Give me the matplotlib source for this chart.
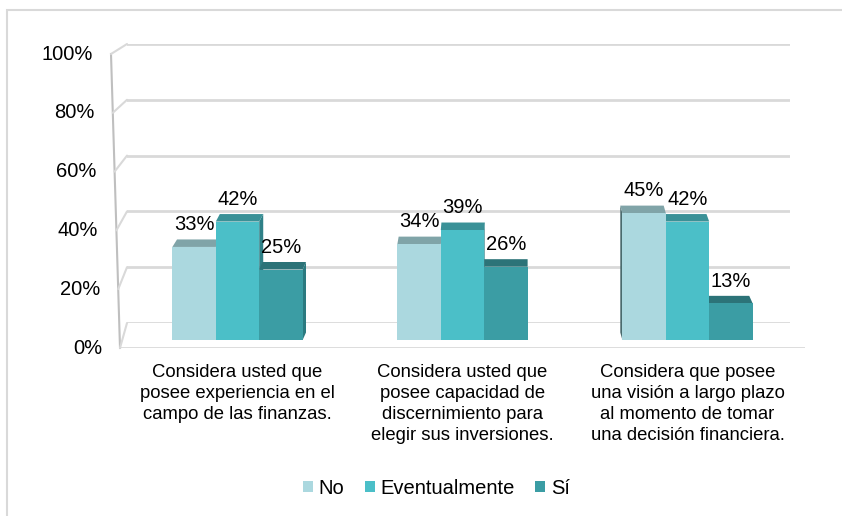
import numpy as np
import matplotlib.pyplot as plt
from matplotlib.patches import Polygon, ConnectionPatch, Rectangle

plt.rcParams['font.family'] = ['Liberation Sans', 'DejaVu Sans']

categories = ["Considera usted que\nposee experiencia en el\ncampo de las finanzas.",
              "Considera usted que\nposee capacidad de\ndiscernimiento para\nelegir sus inversiones.",
              "Considera que posee\nuna visión a largo plazo\nal momento de tomar\nuna decisión financiera."]
series = ["No", "Eventualmente", "Sí"]
no_vals = [0.33, 0.34, 0.45]
ev_vals = [0.42, 0.39, 0.42]
si_vals = [0.25, 0.26, 0.13]
yticks = [0, 0.2, 0.4, 0.6, 0.8, 1.0]
ytick_labels = ["0%", "20%", "40%", "60%", "80%", "100%"]

front_cols = ["#abd8df", "#4bbfc8", "#3b9da4"]
top_cols = ["#80a4a8", "#3a9197", "#2c7378"]
side_cols = ["#4a6b6e", "#2f8087", "#2b7a80"]
grid_col = "#d9d9d9"

W, H = 842, 516
fig = plt.figure(figsize=(W / 100, H / 100), dpi=100)


def px_axes(left, top, right, bottom):
    a = fig.add_axes([left / W, 1 - bottom / H, (right - left) / W, (bottom - top) / H])
    a.patch.set_alpha(0)
    for s in a.spines.values():
        s.set_visible(False)
    return a


# outer chart border
fig.add_artist(Rectangle((7 / W, -0.1), 1.2, 1.1 - 10 / H, transform=fig.transFigure,
                         fill=False, edgecolor=grid_col, lw=1.5))

# back wall (gridlines)
ax_back = px_axes(127, 44, 790, 323)
ax_back.set_xlim(0, 1)
ax_back.set_ylim(0, 1)
ax_back.set_xticks([])
ax_back.set_yticks([])
for t in yticks:
    ax_back.axhline(t, color=grid_col, lw=2)

# front plane (tick labels, floor edge, left wall)
ax_front = px_axes(120, 54, 805, 348)
ax_front.set_xlim(0, 1)
ax_front.set_ylim(0, 1)
ax_front.set_xticks([])
ax_front.set_yticks([])
ax_front.axhline(0, color=grid_col, lw=2)
slant = -9 / 685
ax_front.plot([0, slant], [0, 1], transform=ax_front.transAxes, color="#bfbfbf",
              lw=1.5, clip_on=False)
for t, lab in zip(yticks, ytick_labels):
    cp = ConnectionPatch((slant * t, t), (0, t), coordsA="axes fraction", coordsB="axes fraction",
                         axesA=ax_front, axesB=ax_back, color=grid_col, lw=1.5)
    fig.add_artist(cp)
    ax_front.annotate(lab, (slant * t, t), xycoords="axes fraction", xytext=(-13, 0),
                      textcoords="offset points", ha="right", va="center", fontsize=14.5)

# bar plane
ax = px_axes(125, 58, 800, 340)
ax.set_xlim(-0.5, 2.5)
ax.set_ylim(0, 1)
ax.set_yticks([])
x = np.arange(len(categories))
w = 0.193
vals = [no_vals, ev_vals, si_vals]

inv = ax.transData.inverted()
dy = 7.5
for j, v in enumerate(vals):
    xs = x + (j - 1) * w
    ax.bar(xs, v, width=w, color=front_cols[j], label=series[j], zorder=3)
    for xc, val in zip(xs, v):
        cpx = ax.transData.transform((xc, 0))[0]
        dx = 0.015 * (505 - cpx)
        bl = ax.transData.transform((xc - w / 2, 0))
        tl = ax.transData.transform((xc - w / 2, val))
        tr = ax.transData.transform((xc + w / 2, val))
        br = ax.transData.transform((xc + w / 2, 0))
        off = np.array([dx, dy])
        top = inv.transform([tl, tr, tr + off, tl + off])
        ax.add_patch(Polygon(top, closed=True, facecolor=top_cols[j], edgecolor='none', zorder=2))
        if dx > 0:
            side = inv.transform([br, tr, tr + off, br + off])
        else:
            side = inv.transform([bl, tl, tl + off, bl + off])
        ax.add_patch(Polygon(side, closed=True, facecolor=side_cols[j], edgecolor='none', zorder=1))
        ax.annotate(f"{round(val * 100)}%", (xc, val), xytext=(0, 16), textcoords="offset points",
                    ha="center", va="center", fontsize=14.5, zorder=4)

ax.set_xticks(x)
ax.set_xticklabels(categories, fontsize=13.3, linespacing=1.3)
ax.tick_params(axis='x', length=0, pad=17.5)

handles, labels = ax.get_legend_handles_labels()
fig.legend(handles, labels, loc="center", bbox_to_anchor=(436.5 / W, 1 - 488 / H), ncol=3,
           frameon=False, fontsize=14.5, handlelength=0.5, handleheight=0.5,
           handletextpad=0.3, columnspacing=1.0)

fig.savefig("out.png", dpi=100)
